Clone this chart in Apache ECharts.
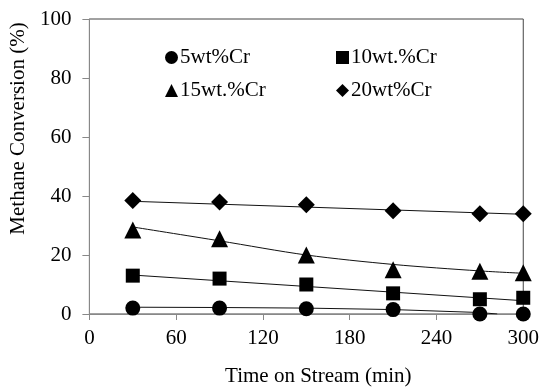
<!DOCTYPE html>
<html>
<head>
<meta charset="utf-8">
<script src="https://cdn.jsdelivr.net/npm/echarts@6/dist/echarts.min.js"></script>
<style>
    html, body { margin: 0; padding: 0; background: #fff; }
    #chart { width: 542px; height: 392px; }
</style>
</head>
<body>
<div id="chart"></div>
<script>
// time on stream (min)
const times = [30, 90, 150, 210, 270, 300]
const xTicks = [0, 60, 120, 180, 240, 300]

// methane conversion (%)
const cr5 = [2, 2, 1.8, 1.5, 0, 0]
const cr10 = [13, 12, 10, 7, 5, 5.5]
const cr15 = [28.5, 25.5, 20, 15, 14.5, 14]
const cr20 = [38.5, 38, 37, 35, 34, 34]

// trend lines as drawn in the picture
const trend5X = [30, 90, 150, 210, 270, 282]
const trend5 = [2.3, 2.2, 2, 1.5, 0.5, 0]
const trend10X = [30, 300]
const trend10 = [13.2, 4.5]
const trend15X = [30, 90, 150, 210, 270, 300]
const trend15 = [29.5, 24.8, 20, 16.8, 14.6, 13.8]
const trend20X = [30, 300]
const trend20 = [38.2, 33.8]

const names = ['5wt%Cr', '10wt.%Cr', '15wt.%Cr', '20wt%Cr']
const symbols = ['circle', 'rect', 'triangle', 'diamond']
const sizes = [15, 14, 17, 17]

const font = 'Liberation Serif, Times New Roman, serif'
const pairs = (xs, ys) => xs.map((x, i) => [x, ys[i]])

let chart = echarts.init(document.getElementById('chart'))

let series = []
;[[trend5X, trend5], [trend10X, trend10], [trend15X, trend15], [trend20X, trend20]].forEach((t, i) => {
    series.push({
        name: 'trend' + i,
        type: 'line',
        data: pairs(t[0], t[1]),
        smooth: i === 2 ? 0.3 : false,
        symbol: 'none',
        silent: true,
        lineStyle: { color: '#111', width: 1 },
        z: 1
    })
})
;[cr5, cr10, cr15, cr20].forEach((d, i) => {
    series.push({
        name: names[i],
        type: 'scatter',
        data: pairs(times, d),
        symbol: symbols[i],
        symbolSize: sizes[i],
        itemStyle: { color: '#000', opacity: 1 },
        z: 3
    })
})

// two legend columns, like the original
const legendCol = (idx, left) => ({
    data: idx.map(i => ({ name: names[i], icon: symbols[i] })),
    orient: 'vertical',
    left: left,
    top: 42,
    itemWidth: 13,
    itemHeight: 13,
    itemGap: 12,
    textStyle: { fontFamily: font, fontSize: 21, color: '#000', padding: [0, 0, 0, -3] },
    itemStyle: { color: '#000', opacity: 1 }
})

let option = {
    animation: false,
    textStyle: { fontFamily: font },
    grid: {
        left: 89,
        right: 16,
        top: 19,
        bottom: 76,
        show: true,
        borderColor: '#444',
        borderWidth: 1
    },
    legend: [legendCol([0, 2], 160), legendCol([1, 3], 331)],
    xAxis: {
        type: 'value',
        min: xTicks[0],
        max: xTicks[xTicks.length - 1],
        interval: 60,
        name: 'Time on Stream (min)',
        nameLocation: 'middle',
        nameGap: 52,
        nameTextStyle: { fontFamily: font, fontSize: 21, color: '#000', padding: [0, 0, 0, 24] },
        axisLine: { lineStyle: { color: '#888' } },
        axisTick: { show: true, length: 6, lineStyle: { color: '#888' } },
        axisLabel: { fontFamily: font, fontSize: 21, color: '#000', margin: 14 },
        splitLine: { show: false }
    },
    yAxis: {
        type: 'value',
        min: 0,
        max: 100,
        interval: 20,
        name: 'Methane Conversion (%)',
        nameLocation: 'middle',
        nameGap: 55,
        nameTextStyle: { fontFamily: font, fontSize: 21, color: '#000', padding: [0, 0, 0, 76] },
        axisLine: { show: true, lineStyle: { color: '#888' } },
        axisTick: { show: true, length: 7, lineStyle: { color: '#888' } },
        axisLabel: { fontFamily: font, fontSize: 21, color: '#000', margin: 18 },
        splitLine: { show: false }
    },
    series: series
}
chart.setOption(option)
</script>
</body>
</html>
